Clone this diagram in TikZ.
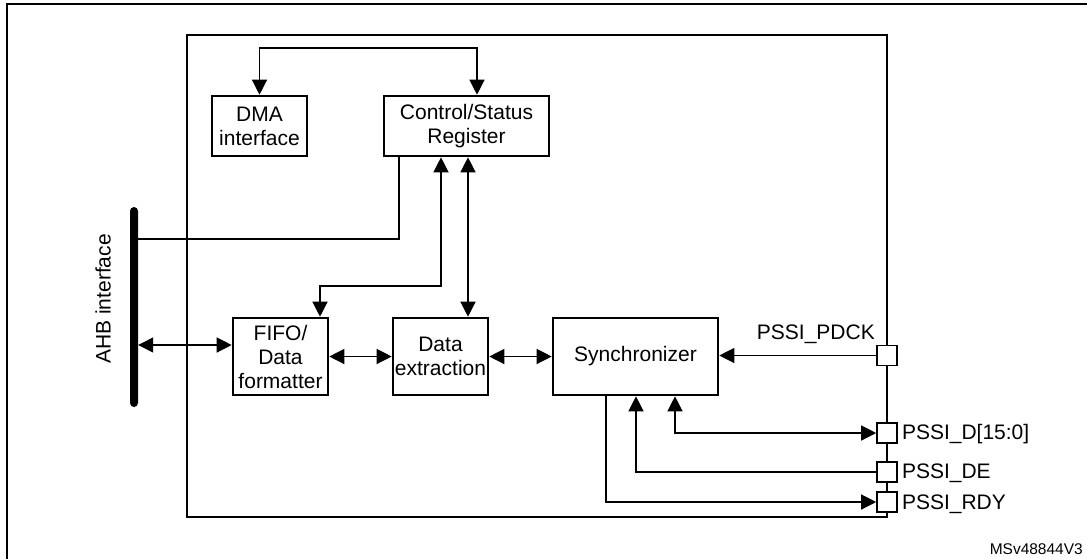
\documentclass[tikz,border=0pt]{standalone}
\usepackage{fontspec}
\setmainfont{Liberation Sans}
\usetikzlibrary{arrows.meta}
\begin{document}
\begin{tikzpicture}[x=1pt,y=-1pt,
  txt/.style={font=\fontsize{21}{24}\selectfont},
  blk/.style={draw,line width=2.6pt,inner sep=0pt,align=center,txt,
    minimum width=#1,minimum height=60},
  tall/.style={minimum height=77},
  pin/.style={draw,fill=white,line width=1.6pt,minimum size=20,inner sep=0pt},
  ln/.style={line width=1.3pt},
  tip/.style={ln,-{Triangle[length=15pt,width=15pt]}},
  dbl/.style={ln,{Triangle[length=15pt,width=15pt]}-{Triangle[length=15pt,width=15pt]}},
  lbl/.style={txt,inner sep=0pt}]
\useasboundingbox (0,0) rectangle (1087,558);
% outer frame (left and top edges visible)
\draw[line width=2.6pt] (7,600) -- (7,4) -- (1120,4);
% inner block
\draw[line width=1.6pt] (187,35) rectangle (887,517);
% blocks
\node[blk=95] (dma) at (259.5,126) {DMA\\interface};
\node[blk=165] (csr) at (466.5,126) {Control/Status\\Register};
\node[blk=95,tall] (fifo) at (280.5,356.5) {FIFO/\\Data\\formatter};
\node[blk=95,tall] (dex) at (440.5,356.5) {Data\\extraction};
\node[blk=165,tall] (sync) at (635.5,356.5) {Synchronizer};
% AHB bus
\node[fill=black,minimum width=8,minimum height=200,inner sep=0pt,rounded corners=4pt] (ahb) at (134,307) {};
\node[lbl,rotate=90] (ahblbl) at (103,299) {AHB interface};
% pins
\node[pin] (pdck) at (887,355.5) {};
\node[pin] (pd) at (887,433) {};
\node[pin] (pde) at (887,472) {};
\node[pin] (prdy) at (887,502) {};
\node[lbl,anchor=base east] (lpdck) at (875,339) {PSSI\_PDCK};
\node[lbl,anchor=base west] (lpd) at ([xshift=4pt,yshift=-6pt]pd.east) {PSSI\_D[15:0]};
\node[lbl,anchor=base west] (lpde) at ([xshift=4pt,yshift=-6pt]pde.east) {PSSI\_DE};
\node[lbl,anchor=base west] (lprdy) at ([xshift=4pt,yshift=-7pt]prdy.east) {PSSI\_RDY};
\node[inner sep=0pt,anchor=base east,font=\fontsize{15.5}{18}\selectfont] (ref) at (1083,554) {MSv48844V3};
% connectors
\coordinate (toprow) at (0,48);
\coordinate (midrow) at (0,286);
\coordinate (ahbrow) at (0,239);
\coordinate (fifoin) at ([yshift=11.5pt]fifo.west);
\draw[dbl] (dma.north) -- (dma.north |- toprow) -| ([xshift=10.5pt]csr.north);
\draw[ln] (ahb.east |- ahbrow) -| ([xshift=-67.5pt]csr.south);
\draw[dbl] ([xshift=-25.5pt]csr.south) -- ([xshift=-25.5pt]csr.south |- midrow) -| ([xshift=39.5pt]fifo.north);
\draw[dbl] ([xshift=1.5pt]csr.south) -- ([xshift=1.5pt]csr.south |- dex.north);
\draw[dbl] (ahb.east |- fifoin) -- (fifoin);
\draw[dbl] (fifo.east) -- (dex.west);
\draw[dbl] (dex.east) -- (sync.west);
\draw[tip] (pdck.west) -- (pdck.west -| sync.east);
\draw[dbl] ([xshift=39.5pt]sync.south) |- (pd.west);
\draw[tip] (pde.west) -| ([xshift=0.5pt]sync.south);
\draw[tip] ([xshift=-29.5pt]sync.south) |- (prdy.west);
\end{tikzpicture}
\end{document}
